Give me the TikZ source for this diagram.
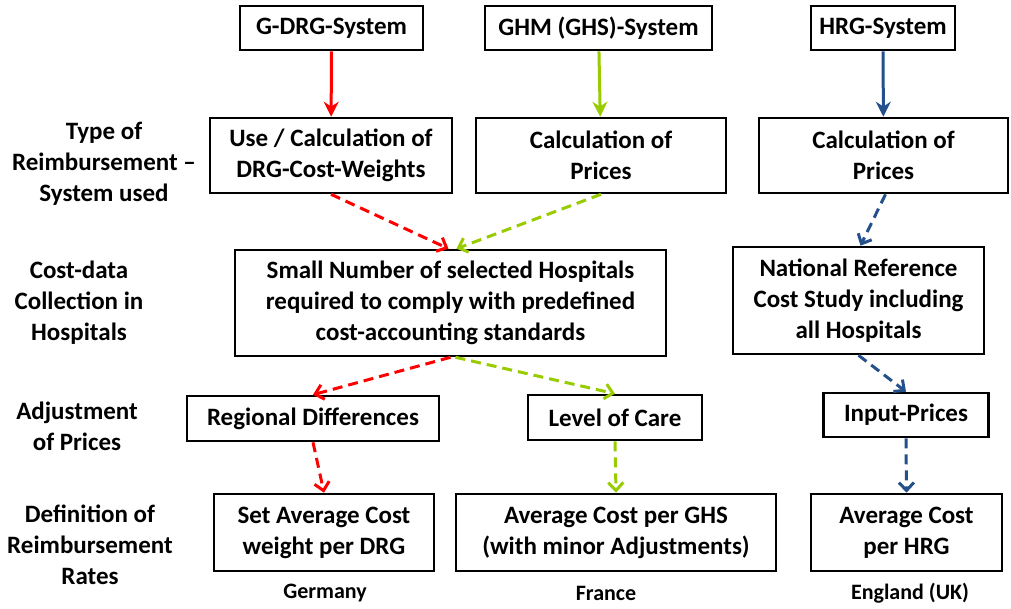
\documentclass[tikz,border=0pt]{standalone}
\usepackage{fontspec}
\setmainfont{Carlito}
\usetikzlibrary{arrows.meta,calc}
\definecolor{drgred}{RGB}{255,0,0}
\definecolor{ghsgreen}{RGB}{153,204,0}
\definecolor{hrgblue}{RGB}{36,80,140}

\begin{document}
\begin{tikzpicture}[x=1pt, y=-1pt,
  font=\bfseries\fontsize{25}{31}\selectfont,
  box/.style={draw, line width=2.6pt, align=center, inner sep=0pt},
  side/.style={align=center},
  ctry/.style={font=\bfseries\fontsize{22}{26}\selectfont},
  sarr/.style={-{Stealth[length=15pt,width=15pt]}, line width=3pt},
  darr/.style={-{Straight Barb[length=8pt,width=15pt]}, line width=3pt,
               dash pattern=on 10pt off 6pt},
]
  \useasboundingbox (0,0) rectangle (1011,608);

  %=================== systems ===================
  \node[box, minimum width=183, minimum height=44] (gdrg) at (331.5,28)  {G-DRG-System};
  \node[box, minimum width=227, minimum height=44] (ghm)  at (598.5,28)  {GHM (GHS)-System};
  \node[box, minimum width=144, minimum height=44] (hrg)  at (883,28)    {HRG-System};

  %=================== type of reimbursement ===================
  \node[box, minimum width=242, minimum height=75] (usecalc) at (331,155.5) {Use / Calculation of\\DRG-Cost-Weights};
  \node[box, minimum width=250, minimum height=75] (ghmcalc) at (601,155.5) {Calculation of\\Prices};
  \node[box, minimum width=249, minimum height=75] (hrgcalc) at (883.5,155.5) {Calculation of\\Prices};
  \draw[sarr, drgred]   (gdrg) -- (usecalc);
  \draw[sarr, ghsgreen] (ghm)  -- (ghmcalc);
  \draw[sarr, hrgblue]  (hrg)  -- (hrgcalc);

  %=================== cost-data collection ===================
  \node[box, minimum width=431, minimum height=106] (small) at (450.5,303)
       {Small Number of selected Hospitals\\required to comply with predefined\\cost-accounting standards};
  \node[box, minimum width=251, minimum height=107] (national) at (858.5,300.5)
       {National Reference\\Cost Study including\\all Hospitals};
  \draw[darr, drgred]   (usecalc.south) -- ($(small.north)+(-2,0)$);
  \draw[darr, ghsgreen] (ghmcalc.south) -- ($(small.north)+(6,0)$);
  \draw[darr, hrgblue]  ($(hrgcalc.south)+(2,0)$) -- ($(national.north)+(2,0)$);

  %=================== adjustment ===================
  \node[box, minimum width=252, minimum height=45] (regional)  at (313,418.5) {Regional Differences};
  \node[box, minimum width=174, minimum height=45] (levelcare) at (615,417.5) {Level of Care};
  \node[box, minimum width=165, minimum height=44] (inputp)    at (906,415) {Input-Prices};
  \draw[darr, drgred]   (small.south) -- (regional.north);
  \draw[darr, ghsgreen] ($(small.south)+(5,0)$) -- (levelcare.north);
  \draw[darr, hrgblue]  (national.south) -- (inputp.north);

  %=================== reimbursement rates ===================
  \node[box, minimum width=220, minimum height=77] (setavg) at (324,532.5) {Set Average Cost\\weight per DRG};
  \node[box, minimum width=320, minimum height=77] (ghsavg) at (616,532.5) {Average Cost per GHS\\(with minor Adjustments)};
  \node[box, minimum width=191, minimum height=77] (hrgavg) at (906.5,532.5) {Average Cost\\per HRG};
  \draw[darr, drgred]   (regional.south)  -- (setavg.north);
  \draw[darr, ghsgreen] (levelcare.south) -- (ghsavg.north);
  \draw[darr, hrgblue]  (inputp.south)    -- (hrgavg.north);

  %=================== row labels ===================
  \node[side] (lbltype) at (104,164)   {Type of\\Reimbursement \textendash\\System used};
  \node[side] (lblcost) at (79,302.5)  {Cost-data\\Collection in\\Hospitals};
  \node[side] (lbladj)  at (77,426)    {Adjustment\\of Prices};
  \node[side] (lbldef)  at (90,545)    {Definition of\\Reimbursement\\Rates};

  %=================== countries ===================
  \node[ctry] (germany) at (325,593) {Germany};
  \node[ctry] (france)  at (606,593) {France};
  \node[ctry] (england) at (910,593) {England (UK)};
\end{tikzpicture}
\end{document}
